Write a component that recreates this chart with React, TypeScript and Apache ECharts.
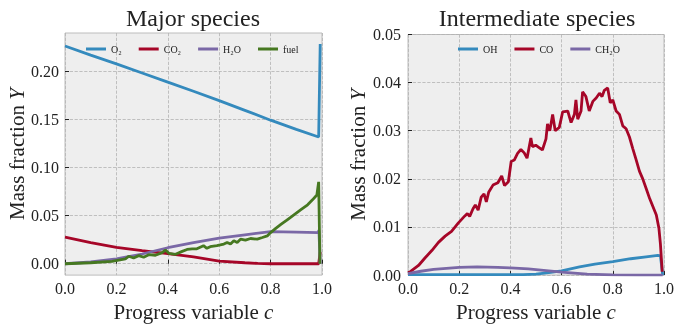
import React, { useEffect, useRef } from "react";
import * as echarts from "echarts";

// ---- Major species (left panel): [c, Y] ----
const o2Data = [
  [0, 0.226], [0.1, 0.2165], [0.2, 0.2075], [0.3, 0.198], [0.4, 0.1885], [0.5, 0.179],
  [0.6, 0.1693], [0.7, 0.1592], [0.8, 0.149], [0.9, 0.1395], [0.987, 0.1315], [0.993, 0.228],
];
const co2Data = [
  [0, 0.0276], [0.1, 0.022], [0.2, 0.0169], [0.3, 0.0135], [0.4, 0.0106], [0.5, 0.0072],
  [0.6, 0.0028], [0.7, 0.001], [0.75, 0.0003], [0.8, 0.0], [0.9, 0.0], [0.987, 0.0], [0.993, 0.012],
];
const h2oData = [
  [0, 0.0], [0.1, 0.0018], [0.2, 0.005], [0.3, 0.0101], [0.4, 0.0166], [0.5, 0.022],
  [0.6, 0.0265], [0.7, 0.030], [0.8, 0.0333], [0.9, 0.0328], [0.985, 0.0323], [0.988, 0.0347], [0.993, 0.0],
];
const fuelData = [
  [0, 0.0], [0.1, 0.001], [0.183, 0.0024], [0.235, 0.005], [0.248, 0.0078], [0.267, 0.006],
  [0.287, 0.0084], [0.306, 0.0067], [0.326, 0.0094], [0.352, 0.0088], [0.378, 0.0115],
  [0.391, 0.0142], [0.404, 0.0108], [0.43, 0.0098], [0.456, 0.0128], [0.475, 0.0148],
  [0.495, 0.0155], [0.513, 0.0155], [0.539, 0.0187], [0.552, 0.016], [0.565, 0.0177],
  [0.591, 0.0187], [0.618, 0.0204], [0.631, 0.0221], [0.644, 0.0204], [0.657, 0.0238],
  [0.67, 0.0221], [0.683, 0.0255], [0.702, 0.0245], [0.722, 0.0262], [0.748, 0.0255],
  [0.768, 0.0272], [0.787, 0.0289], [0.8, 0.0323], [0.82, 0.0367], [0.84, 0.0408],
  [0.866, 0.0459], [0.892, 0.051], [0.918, 0.0561], [0.944, 0.0612], [0.963, 0.0663],
  [0.98, 0.0714], [0.987, 0.085], [0.992, 0.0],
];

// ---- Intermediate species (right panel): [c, Y] ----
const ohData = [
  [0, 0.0001], [0.45, 0.0001], [0.5, 0.0002], [0.55, 0.0005], [0.6, 0.0009], [0.67, 0.0017],
  [0.73, 0.0023], [0.8, 0.0028], [0.87, 0.0034], [0.93, 0.0038], [0.976, 0.0041], [0.986, 0.004], [0.995, 0.0],
];
const coData = [
  [0, 0.0005], [0.009, 0.0007], [0.041, 0.002], [0.067, 0.0036], [0.093, 0.0051], [0.119, 0.0068],
  [0.145, 0.0081], [0.17, 0.0091], [0.196, 0.0108], [0.222, 0.0123], [0.232, 0.0128], [0.241, 0.0122],
  [0.254, 0.0138], [0.263, 0.0146], [0.274, 0.0135], [0.286, 0.0162], [0.297, 0.0169], [0.306, 0.0152],
  [0.315, 0.0172], [0.332, 0.0187], [0.351, 0.0192], [0.366, 0.0206], [0.377, 0.0186], [0.392, 0.0194],
  [0.403, 0.0236], [0.415, 0.0239], [0.428, 0.0253], [0.441, 0.0261], [0.454, 0.0254], [0.465, 0.0243],
  [0.48, 0.0285], [0.486, 0.0267], [0.499, 0.027], [0.512, 0.0265], [0.525, 0.026], [0.539, 0.0283],
  [0.545, 0.0314], [0.554, 0.03], [0.565, 0.0334], [0.575, 0.03], [0.591, 0.0307], [0.604, 0.0339],
  [0.624, 0.0341], [0.637, 0.0317], [0.65, 0.0334], [0.656, 0.0364], [0.663, 0.0324], [0.676, 0.0341],
  [0.682, 0.0381], [0.695, 0.0371], [0.708, 0.0341], [0.722, 0.0361], [0.735, 0.0368], [0.748, 0.0378],
  [0.758, 0.0371], [0.767, 0.0384], [0.78, 0.0389], [0.79, 0.0358], [0.8, 0.0364], [0.813, 0.0341],
  [0.826, 0.0334], [0.839, 0.031], [0.852, 0.0304], [0.865, 0.0287], [0.878, 0.0263], [0.891, 0.024],
  [0.904, 0.0216], [0.917, 0.02], [0.931, 0.0179], [0.944, 0.0159], [0.957, 0.0142], [0.97, 0.0125],
  [0.98, 0.0098], [0.986, 0.0065], [0.993, 0.0007],
];
const ch2oData = [
  [0, 0.0003], [0.05, 0.0008], [0.1, 0.0012], [0.2, 0.0016], [0.27, 0.0017], [0.35, 0.0016],
  [0.4, 0.0015], [0.47, 0.0013], [0.55, 0.0009], [0.6, 0.0006], [0.7, 0.0002], [0.8, 0.00005],
  [0.9, 0.0], [0.995, 0.0],
];

const majorTicks = [0, 0.05, 0.1, 0.15, 0.2];
const interTicks = [0, 0.01, 0.02, 0.03, 0.04, 0.05];

const SERIF = "'Liberation Serif', 'DejaVu Serif', serif";
const BLUE = "#348ABD";
const RED = "#A60628";
const PURPLE = "#7A68A6";
const GREEN = "#467821";

export default function App() {
  const ref = useRef<HTMLDivElement>(null);
  useEffect(() => {
    if (!ref.current) return;
    const chart = echarts.init(ref.current, null, { renderer: "svg" });
    const labelStyle = { fontFamily: SERIF, fontSize: 16, color: "#222" };
    const nameStyle = {
      fontFamily: SERIF,
      fontSize: 21,
      color: "#222",
      rich: {
        n: { fontFamily: SERIF, fontSize: 21, color: "#222" },
        i: { fontFamily: SERIF, fontSize: 21, color: "#222", fontStyle: "italic" },
      },
    };
    const tick = { show: true, inside: true, length: 4, lineStyle: { color: "#222", width: 1 } };
    const split = { show: true, lineStyle: { color: "#b2b2b2", type: "dashed", width: 0.8 } };
    const xAx = (gi: number) => ({
      type: "value",
      gridIndex: gi,
      min: 0,
      max: 1,
      interval: 0.2,
      axisLine: { show: false },
      axisTick: tick,
      splitLine: split,
      axisLabel: { ...labelStyle, margin: 5, formatter: (v: number) => v.toFixed(1) },
      name: "{n|Progress variable }{i|c}",
      nameLocation: "middle",
      nameGap: 24,
      nameTextStyle: nameStyle,
    });
    const line = (name: string, color: string, data: number[][], gi: number) => ({
      name,
      type: "line",
      xAxisIndex: gi,
      yAxisIndex: gi,
      data,
      symbol: "none",
      showSymbol: false,
      lineStyle: { color, width: 2.8 },
      itemStyle: { color },
    });
    const legendBase = {
      icon: "rect",
      itemWidth: 20,
      itemHeight: 3,
      itemGap: 17,
      orient: "horizontal",
      textStyle: { fontFamily: SERIF, fontSize: 10, color: "#222" },
    };
    chart.setOption({
      animation: false,
      graphic: [
        {
          type: "text",
          x: 193,
          y: 18,
          style: { text: "Major species", align: "center", verticalAlign: "middle", fontFamily: SERIF, fontSize: 24, fill: "#222" },
        },
        {
          type: "text",
          x: 537,
          y: 18,
          style: { text: "Intermediate species", align: "center", verticalAlign: "middle", fontFamily: SERIF, fontSize: 24, fill: "#222" },
        },
      ],
      grid: [
        { left: 65, top: 33, width: 257, height: 249, show: true, backgroundColor: "#eeeeee", borderColor: "#bcbcbc", borderWidth: 1 },
        { left: 408, top: 34.5, width: 257, height: 247, show: true, backgroundColor: "#eeeeee", borderColor: "#bcbcbc", borderWidth: 1 },
      ],
      legend: [
        { ...legendBase, left: 81, top: 39, data: ["O₂", "CO₂", "H₂O", "fuel"] },
        { ...legendBase, left: 453, top: 39, data: ["OH", "CO", "CH₂O"] },
      ],
      xAxis: [xAx(0), xAx(1)],
      yAxis: [
        {
          type: "value",
          gridIndex: 0,
          min: -0.0118,
          max: 0.2395,
          axisLine: { show: false },
          axisTick: { ...tick, customValues: majorTicks },
          splitLine: split,
          axisLabel: { ...labelStyle, margin: 6, customValues: majorTicks, formatter: (v: number) => v.toFixed(2) },
          name: "{n|Mass fraction }{i|Y}",
          nameLocation: "middle",
          nameGap: 38,
          nameTextStyle: nameStyle,
        },
        {
          type: "value",
          gridIndex: 1,
          min: 0,
          max: 0.05,
          interval: 0.01,
          axisLine: { show: false },
          axisTick: tick,
          splitLine: split,
          axisLabel: { ...labelStyle, margin: 7, customValues: interTicks, formatter: (v: number) => v.toFixed(2) },
          name: "{n|Mass fraction }{i|Y}",
          nameLocation: "middle",
          nameGap: 40,
          nameTextStyle: nameStyle,
        },
      ],
      series: [
        line("O₂", BLUE, o2Data, 0),
        line("CO₂", RED, co2Data, 0),
        line("H₂O", PURPLE, h2oData, 0),
        line("fuel", GREEN, fuelData, 0),
        line("OH", BLUE, ohData, 1),
        line("CO", RED, coData, 1),
        line("CH₂O", PURPLE, ch2oData, 1),
      ],
    });
    return () => chart.dispose();
  }, []);
  return <div ref={ref} style={{ position: "fixed", left: 0, top: 0, width: 677, height: 327 }} />;
}
